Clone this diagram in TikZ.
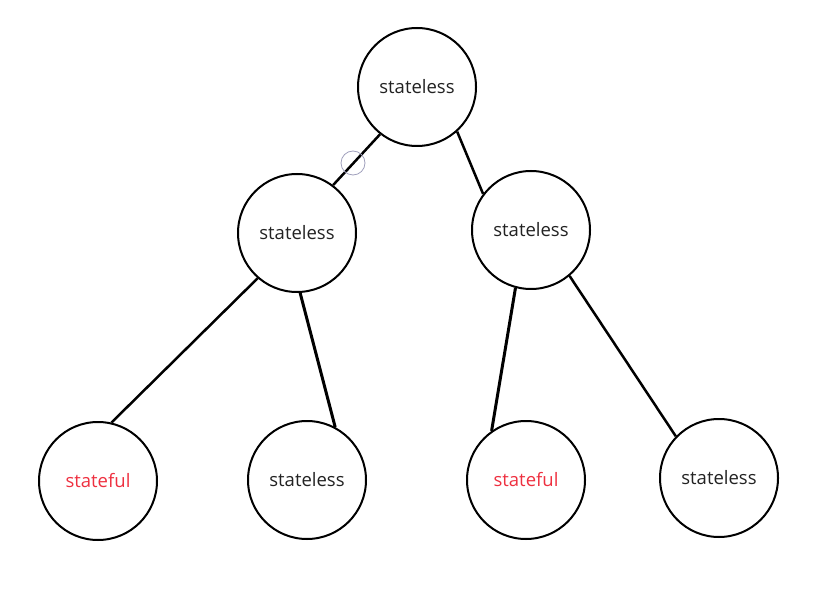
\documentclass[tikz,border=0pt]{standalone}
\usepackage{fontspec}
\setmainfont{Open Sans}
\usepackage{xcolor}
\usetikzlibrary{math}
\definecolor{statered}{HTML}{EE3040}
\definecolor{statetext}{HTML}{222222}
\definecolor{markgray}{HTML}{A0A0BC}
\tikzset{
state/.style={circle,draw,line width=2,minimum size=\r,inner sep=0,text=statetext,font=\fontsize{18.5}{22}\selectfont},
stful/.style={state,text=statered},
link/.style={line width=2.5}
}

\begin{document}
\begin{tikzpicture}[x=1pt,y=-1pt]
\tikzmath{
\r=118;
}
\useasboundingbox (0,0) rectangle (813,609);

\node[state] (root) at (417,87) {\raisebox{-2pt}{stateless}};
\node[state] (ml) at (297,233) {\raisebox{-2pt}{stateless}};
\node[state] (mr) at (531,230) {\raisebox{-2pt}{stateless}};
\node[stful] (ll) at (98,481) {\raisebox{-2pt}{stateful}};
\node[state] (lm) at (307,480) {\raisebox{-2pt}{stateless}};
\node[stful] (rm) at (526,480) {\raisebox{-2pt}{stateful}};
\node[state] (rr) at (719,478) {\raisebox{-2pt}{stateless}};

\draw [link] (root.232) -- (ml.53);
\draw [link] (root.312) -- (mr.143);
\draw [link] (ml.229) -- (ll.77);
\draw [link,line width=3] (ml.273) -- (lm.62);
\draw [link,line width=3] (mr.255) -- (rm.125);
\draw [link] (mr.310) -- (rr.136);

\draw [markgray,line width=0.8] (353,163) circle(12);
\end{tikzpicture}
\end{document}
